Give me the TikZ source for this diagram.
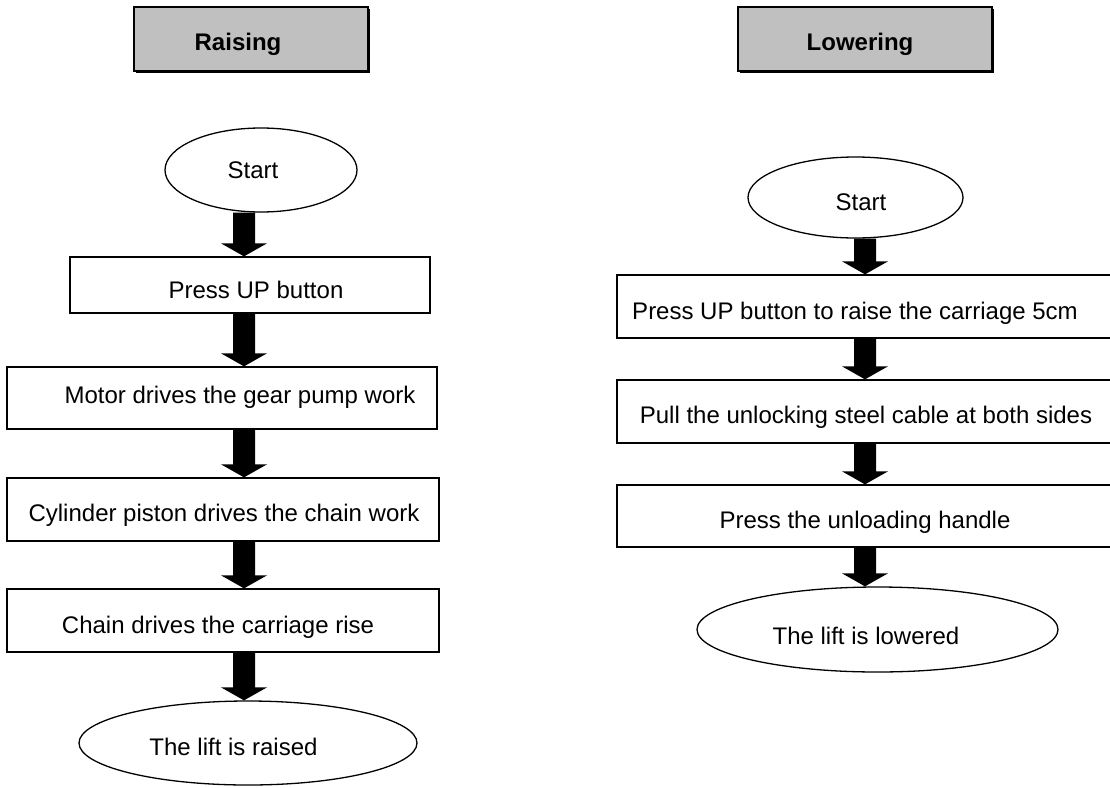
\documentclass[tikz,border=0pt]{standalone}
\usepackage{fontspec}
\setmainfont{Liberation Sans}
\usetikzlibrary{shapes.geometric,calc,shadows}
\definecolor{hdrgray}{HTML}{C0C0C0}
\tikzset{
  box/.style={draw, line width=1.3pt, inner sep=0pt, fill=white},
  term/.style={ellipse, draw, line width=1.3pt, inner sep=0pt, fill=white},
  hdr/.style={draw, line width=1.3pt, fill=hdrgray, inner sep=0pt,
    drop shadow={shadow xshift=1.5pt, shadow yshift=-1.5pt, fill=black, opacity=1}},
  txt/.style={font=\fontsize{24}{28}\selectfont, inner sep=0pt, text height=17pt, text depth=0pt},
  htxt/.style={txt, font=\fontsize{24}{28}\selectfont\bfseries},
  blockarrow/.style={fill=black, to path={let \p1=(\tikztostart), \p2=(\tikztotarget) in
    (\x1-11pt,\y1) -- (\x1+11pt,\y1) -- (\x1+11pt,\y2+13pt) -- (\x1+23pt,\y2+13pt)
    -- (\x1,\y2) -- (\x1-23pt,\y2+13pt) -- (\x1-11pt,\y2+13pt) -- cycle}}
}
\begin{document}
\begin{tikzpicture}[x=1pt,y=-1pt]
\useasboundingbox (0,0) rectangle (1110,787);

% headers
\node[hdr, minimum width=234pt, minimum height=64pt] (hR) at (251,39) {};
\node[htxt] (hRt) at (238,42) {Raising};
\node[hdr, minimum width=254pt, minimum height=64pt] (hL) at (865,39) {};
\node[htxt] (hLt) at (860,42) {Lowering};

% left column
\coordinate (ax) at (244,0);
\node[term, minimum width=192pt, minimum height=84pt] (startL) at (261,170) {};
\node[txt] (startLt) at (253,170) {Start};
\node[box, minimum width=360pt, minimum height=56pt] (upL) at (250,285) {};
\node[txt] (upLt) at (256,290) {Press UP button};
\node[box, minimum width=430pt, minimum height=62pt] (motor) at (222,398) {};
\node[txt] (motort) at (240,395) {Motor drives the gear pump work};
\node[box, minimum width=432pt, minimum height=63pt] (cyl) at (223,509.5) {};
\node[txt] (cylt) at (224,513) {Cylinder piston drives the chain work};
\node[box, minimum width=432pt, minimum height=63pt] (chain) at (223,620.5) {};
\node[txt] (chaint) at (218,625) {Chain drives the carriage rise};
\node[term, minimum width=338pt, minimum height=84pt] (endL) at (248,743) {};
\node[txt] (endLt) at (233.5,747) {The lift is raised};

\path[blockarrow] (startL.south -| ax) to (upL.north -| ax);
\path[blockarrow] (upL.south -| ax) to (motor.north -| ax);
\path[blockarrow] (motor.south -| ax) to (cyl.north -| ax);
\path[blockarrow] (cyl.south -| ax) to (chain.north -| ax);
\path[blockarrow] (chain.south -| ax) to (endL.north -| ax);

% right column
\coordinate (bx) at (865,0);
\node[term, minimum width=215pt, minimum height=81pt] (startR) at (855.5,197.5) {};
\node[txt] (startRt) at (861,202) {Start};
\node[box, minimum width=505pt, minimum height=63pt] (r1) at (869.5,306.5) {};
\node[txt] (r1t) at (855,311) {Press UP button to raise the carriage 5cm};
\node[box, minimum width=505pt, minimum height=63pt] (r2) at (869.5,411.5) {};
\node[txt] (r2t) at (866,414.5) {Pull the unlocking steel cable at both sides};
\node[box, minimum width=505pt, minimum height=62pt] (r3) at (869.5,516) {};
\node[txt] (r3t) at (865,519.5) {Press the unloading handle};
\node[term, minimum width=361pt, minimum height=85pt] (endR) at (877.5,629.5) {};
\node[txt] (endRt) at (866,636) {The lift is lowered};

\path[blockarrow] (startR.south -| bx) to (r1.north -| bx);
\path[blockarrow] (r1.south -| bx) to (r2.north -| bx);
\path[blockarrow] (r2.south -| bx) to (r3.north -| bx);
\path[blockarrow] (r3.south -| bx) to (endR.north -| bx);
\end{tikzpicture}
\end{document}
